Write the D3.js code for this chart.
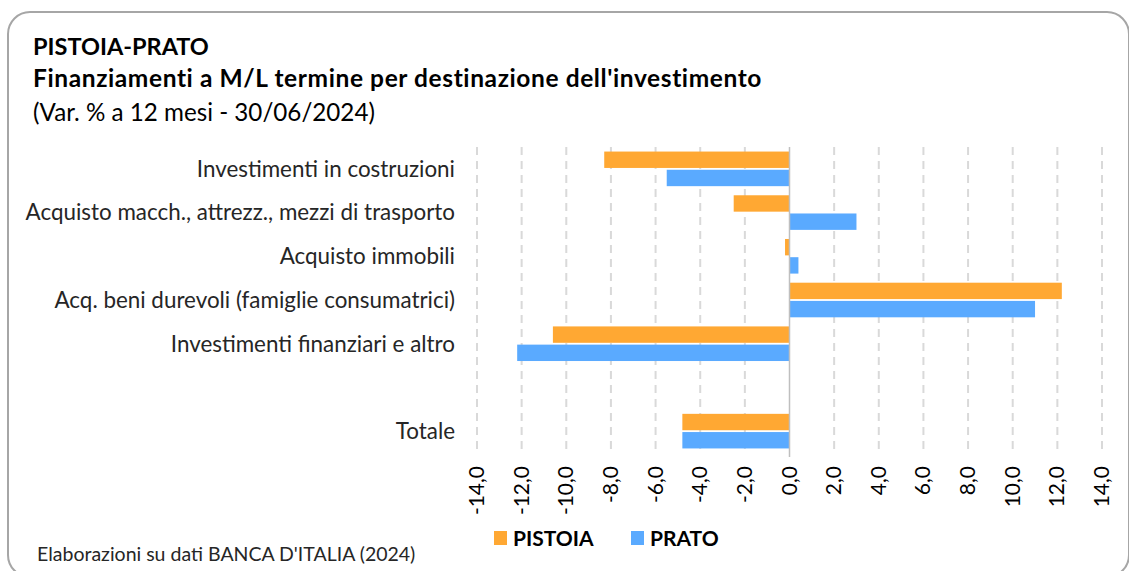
<!DOCTYPE html>
<html>
<head>
<meta charset="utf-8">
<script src="https://cdn.jsdelivr.net/npm/d3@7"></script>
<style>
body{margin:0;background:#fff;}
text{font-family:Lato,"Open Sans",sans-serif;}
</style>
</head>
<body>
<div id="chart"></div>
<script>
var categories=["Investimenti in costruzioni","Acquisto macch., attrezz., mezzi di trasporto","Acquisto immobili","Acq. beni durevoli (famiglie consumatrici)","Investimenti finanziari e altro","","Totale"];
var seriesNames=["PISTOIA","PRATO"];
var pistoia=[-8.3,-2.5,-0.2,12.2,-10.6,null,-4.8];
var prato=[-5.5,3.0,0.4,11.0,-12.2,null,-4.8];
var ticks=[-14,-12,-10,-8,-6,-4,-2,0,2,4,6,8,10,12,14];
var colors=["#FFA833","#5AAAFF"];

var width=1129,height=571;
var svg=d3.select('#chart').append('svg')
    .attr('width',width).attr('height',height);

// cornice arrotondata
svg.append('rect')
    .attr('x',8).attr('y',12)
    .attr('width',1121).attr('height',565)
    .attr('rx',22)
    .attr('fill','none')
    .attr('stroke','#a6a6a6')
    .attr('stroke-width',2);

// titoli
svg.append('text').attr('x',33).attr('y',55)
    .attr('font-size',23.5).attr('font-weight','bold').attr('fill','#000')
    .text('PISTOIA-PRATO');
svg.append('text').attr('x',33).attr('y',87)
    .attr('font-size',24.5).attr('font-weight','bold').attr('fill','#000')
    .attr('letter-spacing',0.6)
    .text("Finanziamenti a M/L termine per destinazione dell'investimento");
svg.append('text').attr('x',33).attr('y',121)
    .attr('font-size',24.2).attr('fill','#000')
    .text('(Var. % a 12 mesi - 30/06/2024)');

var x=d3.scaleLinear().domain([-14,14]).range([477,1102]);
var y=d3.scaleBand().domain(d3.range(categories.length)).range([147,453]);
var inner=d3.scaleBand().domain([0,1]).range([0,y.bandwidth()]).paddingInner(0.1).paddingOuter(0.25);

// griglia
svg.append('g').selectAll('line').data(ticks.filter(function(d){return d!=0;}))
    .enter().append('line')
    .attr('x1',function(d){return x(d);}).attr('x2',function(d){return x(d);})
    .attr('y1',147).attr('y2',453)
    .attr('stroke','#d9d9d9').attr('stroke-width',2)
    .attr('stroke-dasharray','8,6');

// barre
var data=[pistoia,prato];
data.forEach(function(vals,s){
    svg.append('g').selectAll('rect')
        .data(vals.map(function(v,i){return {v:v,i:i};}).filter(function(d){return d.v!=null;}))
        .enter().append('rect')
        .attr('x',function(d){return x(Math.min(0,d.v));})
        .attr('width',function(d){return Math.abs(x(d.v)-x(0));})
        .attr('y',function(d){return y(d.i)+inner(s);})
        .attr('height',inner.bandwidth())
        .attr('fill',colors[s]);
});

// asse zero
svg.append('line')
    .attr('x1',x(0)).attr('x2',x(0))
    .attr('y1',147).attr('y2',457)
    .attr('stroke','#bfbfbf').attr('stroke-width',1.5);

// etichette categorie
svg.append('g').selectAll('text').data(categories)
    .enter().append('text')
    .attr('x',455)
    .attr('y',function(d,i){return y(i)+y.bandwidth()/2;})
    .attr('dy','0.35em')
    .attr('text-anchor','end')
    .attr('font-size',22.4).attr('fill','#262626')
    .text(function(d){return d;});

// etichette asse x ruotate
var fmt=function(d){return d3.format('.1f')(d).replace('.',',').replace('−','-');};
svg.append('g').selectAll('text').data(ticks)
    .enter().append('text')
    .attr('transform',function(d){return 'translate('+(x(d)+7)+',466) rotate(-90)';})
    .attr('text-anchor','end')
    .attr('font-size',21).attr('fill','#000')
    .text(fmt);

// legenda
var leg=[{n:seriesNames[0],x:494},{n:seriesNames[1],x:631}];
leg.forEach(function(l,i){
    svg.append('rect').attr('x',l.x).attr('y',531)
        .attr('width',13).attr('height',14).attr('fill',colors[i]);
    svg.append('text').attr('x',l.x+19).attr('y',546)
        .attr('font-size',21).attr('font-weight','bold').attr('fill','#000')
        .text(l.n);
});

// fonte
svg.append('text').attr('x',37).attr('y',561)
    .attr('font-size',19.5).attr('fill','#262626')
    .text("Elaborazioni su dati BANCA D'ITALIA (2024)");
</script>
</body>
</html>
